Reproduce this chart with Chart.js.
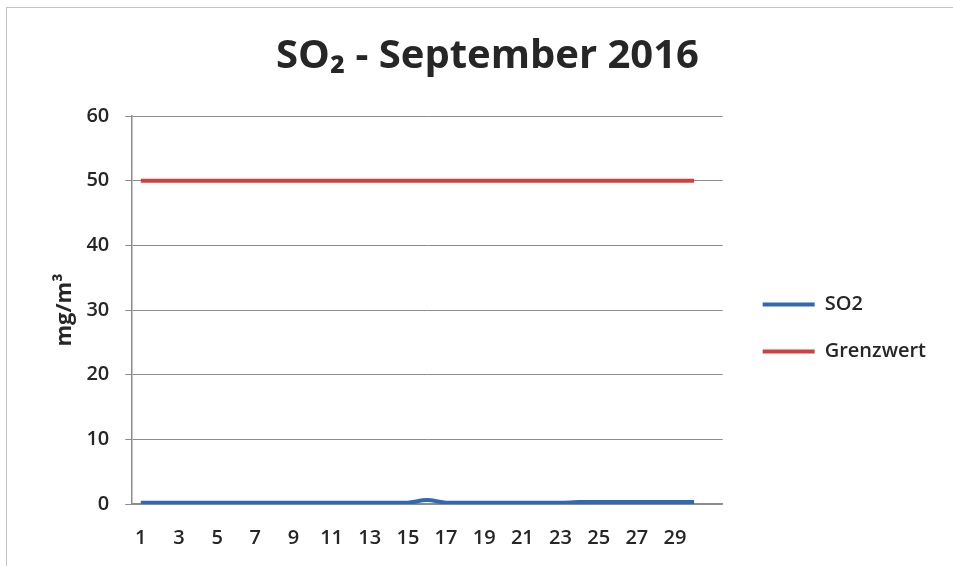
<!DOCTYPE html>
<html><head><meta charset="utf-8">
<script src="https://cdn.jsdelivr.net/npm/chart.js@4.4.1/dist/chart.umd.min.js"></script>
<style>
html,body{margin:0;padding:0;background:#fff}
#wrap{position:absolute;left:0;top:0;width:953px;height:566px}
#frame{position:absolute;left:6px;top:7px;width:960px;height:580px;border:1px solid #c4c4c4;pointer-events:none}
</style></head><body>
<div id="wrap"><canvas id="c" width="953" height="566"></canvas><div id="frame"></div></div>
<script>
const days = ['1','2','3','4','5','6','7','8','9','10','11','12','13','14','15','16','17','18','19','20','21','22','23','24','25','26','27','28','29','30',''];
const so2 = [0.2,0.2,0.2,0.2,0.2,0.2,0.2,0.2,0.2,0.2,0.2,0.2,0.2,0.2,0.2,0.6,0.2,0.2,0.2,0.2,0.2,0.2,0.2,0.3,0.3,0.3,0.3,0.3,0.3,0.3,null];
const grenzwert = [50,50,50,50,50,50,50,50,50,50,50,50,50,50,50,50,50,50,50,50,50,50,50,50,50,50,50,50,50,50,null];
const yTicks = [0,10,20,30,40,50,60];

const blue = '#3169b0', red = '#d0403f', txt = '#262626';
const FONT = "'Open Sans', sans-serif";
const legendShift = {
  id: 'legendShift',
  afterLayout(chart) {
    if (chart.legend) { chart.legend.left += 13; chart.legend.right += 13; }
  }
};
const ctx = document.getElementById('c').getContext('2d');
new Chart(ctx, {
  type: 'line',
  data: {
    labels: days,
    datasets: [
      {label:'SO2', data: so2, borderColor: blue, backgroundColor: blue, borderWidth: 4, pointRadius: 0, tension: 0.3},
      {label:'Grenzwert', data: grenzwert, borderColor: red, backgroundColor: red, borderWidth: 4, pointRadius: 0}
    ]
  },
  plugins: [legendShift],
  options: {
    responsive: false, animation: false,
    layout: {padding: {left: 52, right: 30, top: 0, bottom: 2}},
    plugins: {
      title: {display: true, text: 'SO₂ - September 2016', color: txt,
        font: {family: FONT, size: 40, weight: 'bold'}, padding: {top: 33, bottom: 35}},
      legend: {position: 'right',
        title: {display: true, text: ' ', font: {size: 1}, padding: {top: 91, bottom: 0}},
        labels: {boxWidth: 52, boxHeight: 4, padding: 27, color: txt,
          font: {family: FONT, size: 20, weight: '600'},
          generateLabels: (chart) => Chart.defaults.plugins.legend.labels.generateLabels(chart).map(l => ({...l, lineWidth: 0}))}}
    },
    scales: {
      x: {offset: true, grid: {display: false}, border: {color: '#8c8c8c', width: 1.5},
        ticks: {autoSkip: false, maxRotation: 0, color: txt, font: {family: FONT, size: 20, weight: '600'}, padding: 14,
          callback: (v, i) => (i % 2 === 0 ? days[i] : '')}},
      y: {min: 0, max: 60, afterBuildTicks: (s) => { s.ticks = yTicks.map(v => ({value: v})); },
        grid: {color: '#8c8c8c', tickLength: 6}, border: {color: '#8c8c8c', width: 1.5},
        ticks: {color: txt, font: {family: FONT, size: 20, weight: '600'}, padding: 16},
        title: {display: true, text: 'mg/m³', color: txt, font: {family: FONT, size: 22, weight: 'bold'}, padding: {top: 0, bottom: -8}}}
    }
  }
});
</script>
</body></html>
